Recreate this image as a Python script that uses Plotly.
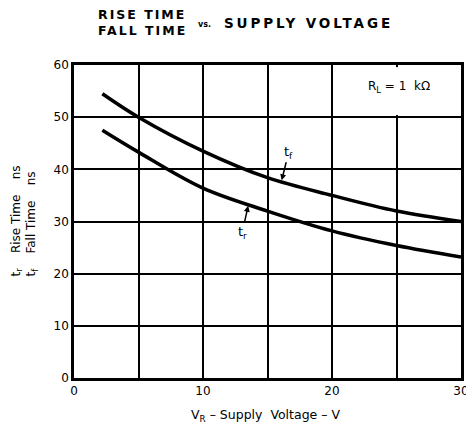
import plotly.graph_objects as go

# Data
supply_v = [2.2, 5, 10, 15, 20, 25, 30]
fall_time = [54.5, 50, 43.5, 38.4, 35, 32, 30]
rise_time = [47.5, 43.3, 36.4, 32, 28.2, 25.4, 23.2]
x_ticks = [0, 10, 20, 30]
y_ticks = [0, 10, 20, 30, 40, 50, 60]

FONT = "DejaVu Sans"

fig = go.Figure()
fig.add_trace(go.Scatter(x=supply_v, y=fall_time, mode="lines",
                         line=dict(color="black", width=3.5, shape="spline"),
                         showlegend=False, hoverinfo="skip"))
fig.add_trace(go.Scatter(x=supply_v, y=rise_time, mode="lines",
                         line=dict(color="black", width=3.5, shape="spline"),
                         showlegend=False, hoverinfo="skip"))

axis_common = dict(showline=True, linecolor="black", linewidth=2.5, mirror=True,
                   showgrid=True, gridcolor="black", gridwidth=1.5,
                   zeroline=False, ticks="", automargin=False,
                   ticklabeloverflow="allow",
                   tickfont=dict(family=FONT, size=12, color="black"))

fig.update_xaxes(range=[0, 30], tickmode="array", tickvals=x_ticks,
                 minor=dict(dtick=5, tick0=0, showgrid=True, gridcolor="black",
                            gridwidth=1.5, ticks=""),
                 **axis_common)
fig.update_yaxes(range=[0, 60], tickmode="array", tickvals=y_ticks,
                 ticksuffix=" ", **axis_common)

# mask the x=25 gridline inside the R_L box cell
fig.add_shape(type="rect", x0=24.6, x1=25.4, y0=50.4, y1=59.6,
              fillcolor="white", line=dict(width=0), layer="between")

title_style = "letter-spacing:2px"
annotations = [
    dict(x=(96 - 74) / 387, y=1.0, xref="paper", yref="paper", xanchor="left",
         yanchor="bottom", yshift=25,
         text=f"<b><span style='{title_style}'>RISE TIME</span><br>"
              f"<span style='{title_style}'>FALL TIME</span></b>",
         showarrow=False, align="left",
         font=dict(family=FONT, size=12.5, color="black")),
    dict(x=(196 - 74) / 387, y=1.0, xref="paper", yref="paper", xanchor="left",
         yanchor="middle", yshift=41,
         text="<b>vs.</b>", showarrow=False,
         font=dict(family=FONT, size=8, color="black")),
    dict(x=(222 - 74) / 387, y=1.0, xref="paper", yref="paper", xanchor="left",
         yanchor="middle", yshift=42,
         text="<b><span style='letter-spacing:2.9px'>SUPPLY VOLTAGE</span></b>",
         showarrow=False, font=dict(family=FONT, size=13.5, color="black")),
    dict(x=25.2, y=55.8, text="R<sub>L</sub> = 1  kΩ", showarrow=False,
         font=dict(family=FONT, size=12, color="black")),
    dict(x=16.1, y=37.9, ax=7, ay=-28, text="t<sub>f</sub>", showarrow=True,
         arrowhead=2, arrowsize=0.8, arrowwidth=1.5, arrowcolor="black",
         font=dict(family=FONT, size=13, color="black")),
    dict(x=13.5, y=33.0, ax=-6, ay=27, text="t<sub>r</sub>", showarrow=True,
         arrowhead=2, arrowsize=0.8, arrowwidth=1.5, arrowcolor="black",
         font=dict(family=FONT, size=13, color="black")),
    dict(x=(24 - 74) / 387, y=0.5, xref="paper", yref="paper", textangle=-90,
         xanchor="center", yanchor="middle",
         text="t<sub>r</sub>    Rise Time    ns<br>t<sub>f</sub>    Fall Time    ns",
         showarrow=False, align="left",
         font=dict(family=FONT, size=12, color="black")),
    dict(x=(265 - 74) / 387, y=0, xref="paper", yref="paper", xanchor="center",
         yanchor="middle", yshift=-37,
         text="V<sub>R</sub> – Supply  Voltage – V", showarrow=False,
         font=dict(family=FONT, size=12.5, color="black")),
]

fig.update_layout(width=466, height=426,
                  margin=dict(l=74, r=5, t=65, b=48),
                  paper_bgcolor="white", plot_bgcolor="white",
                  annotations=annotations)

fig.write_html("out.html", config={"displayModeBar": False},
               post_script="document.body.style.margin='0';")
